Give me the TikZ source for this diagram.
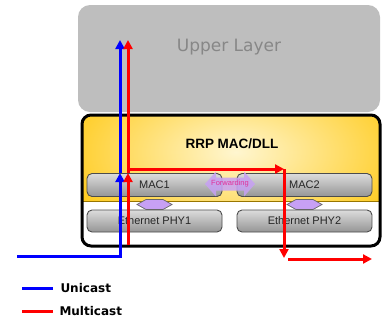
\documentclass[tikz,border=0pt]{standalone}
\usepackage{fontspec}
\setmainfont{Liberation Sans}
\newfontfamily\verd{DejaVu Sans}
\usetikzlibrary{arrows.meta,calc,positioning}

\definecolor{layergray}{HTML}{BEBEBE}
\definecolor{layertext}{HTML}{878787}
\definecolor{gold}{HTML}{FFC400}
\definecolor{paleyel}{HTML}{FFF6D0}
\definecolor{boxtop}{HTML}{DCDCDC}
\definecolor{boxbot}{HTML}{959595}
\definecolor{lav}{HTML}{C7A0F4}
\definecolor{fwdtext}{HTML}{E0309A}
\definecolor{uniblue}{HTML}{0000FF}
\definecolor{multired}{HTML}{FF0000}

\tikzset{
  gbox/.style={draw=black!70, line width=0.9pt, rounded corners=5pt,
    top color=boxtop, bottom color=boxbot, minimum width=135pt,
    minimum height=22pt, inner sep=0pt, text=black!85,
    font=\fontsize{11}{13}\selectfont},
  tip/.style={-{Triangle[length=9pt,width=9pt]}},
  uni/.style={uniblue, line width=3pt, tip},
  multi/.style={multired, line width=3pt, tip},
  keyline/.style={line width=3pt},
  keytext/.style={anchor=west, inner sep=0pt, font=\verd\bfseries\fontsize{12}{14}\selectfont},
}

\begin{document}
\begin{tikzpicture}[x=1pt, y=-1pt]
  \useasboundingbox (0,0) rectangle (391,325);

  % Upper layer
  \fill[layergray, rounded corners=12pt] (78,5) rectangle (380,112);
  \node[text=layertext, font=\verd\fontsize{17}{20}\selectfont] (upper) at (229,47) {Upper Layer};

  % RRP block
  \begin{scope}
    \clip[rounded corners=9pt] (82,115) rectangle (380,246);
    \fill[white] (82,115) rectangle (380,246);
    \fill[gold] (82,115) rectangle (380,201);
    \begin{scope}
      \clip (82,115) rectangle (380,201);
      \shade[inner color=paleyel, outer color=gold] (236,152) ellipse (210 and 110);
    \end{scope}
    \draw[gold!60!black, line width=0.9pt] (82,201) -- (380,201);
  \end{scope}
  \draw[line width=3pt, rounded corners=9pt] (82,115) rectangle (380,246);
  \node[font=\bfseries\fontsize{13.5}{16}\selectfont] (rrp) at (232,144) {RRP MAC/DLL};

  % MAC and PHY boxes
  \foreach \n/\x in {1/154.5, 2/304.5} {
    \node[gbox, minimum height=23pt] (mac\n) at (\x,185) {MAC\n};
    \node[gbox] (phy\n) at (\x,221) {Ethernet PHY\n};
    \coordinate (lnk\n) at (\x,204.5);
    \filldraw[fill=lav, draw=black!60, line width=0.7pt]
      ($(lnk\n)+(-17.5,0)$) -- ++(9,-5) -- ++(17,0) -- ++(9,5)
      -- ++(-9,5) -- ++(-17,0) -- cycle;
  }

  % Forwarding
  \coordinate (fwd) at (230,184);
  \fill[lav, opacity=0.85] ($(fwd)+(-25,0)$) -- ++(11,-12.5) -- ++(0,6)
    -- ++(28,0) -- ++(0,-6) -- ++(11,12.5) -- ++(-11,12.5) -- ++(0,-6)
    -- ++(-28,0) -- ++(0,6) -- cycle;
  \node[text=fwdtext, inner sep=0pt, font=\fontsize{7.5}{8}\selectfont] (fwdlbl) at (fwd) {Forwarding};

  % Unicast path
  \coordinate (uin) at (17,256);
  \coordinate (ux) at (120,0);
  \draw[uni] (uin) -| (mac1.north -| ux);
  \draw[uni] (mac1.north -| ux) -- (ux |- 0,40);

  % Multicast path
  \coordinate (mx) at (128,0);
  \coordinate (fx) at (284,0);
  \coordinate (mout) at (288,259);
  \coordinate (mend) at (372,259);
  \draw[multi] (mx |- 0,245) -- (mac1.north -| mx);
  \draw[multi] (mac1.north -| mx) -- (mx |- 0,40);
  \draw[multi] (mx |- 0,169) -- (fx |- 0,169);
  \draw[multi] (fx |- 0,169) -- (fx |- 0,258);
  \draw[multi] (mout) -- (mend);

  % Legend
  \coordinate (k1) at (22,288);
  \coordinate (k2) at (22,311);
  \draw[keyline, uniblue] (k1) -- ++(31,0) node[keytext, right=6pt, text=black] (kuni) {Unicast};
  \draw[keyline, multired] (k2) -- ++(31,0) node[keytext, right=5pt, text=black] (kmulti) {Multicast};
\end{tikzpicture}
\end{document}
